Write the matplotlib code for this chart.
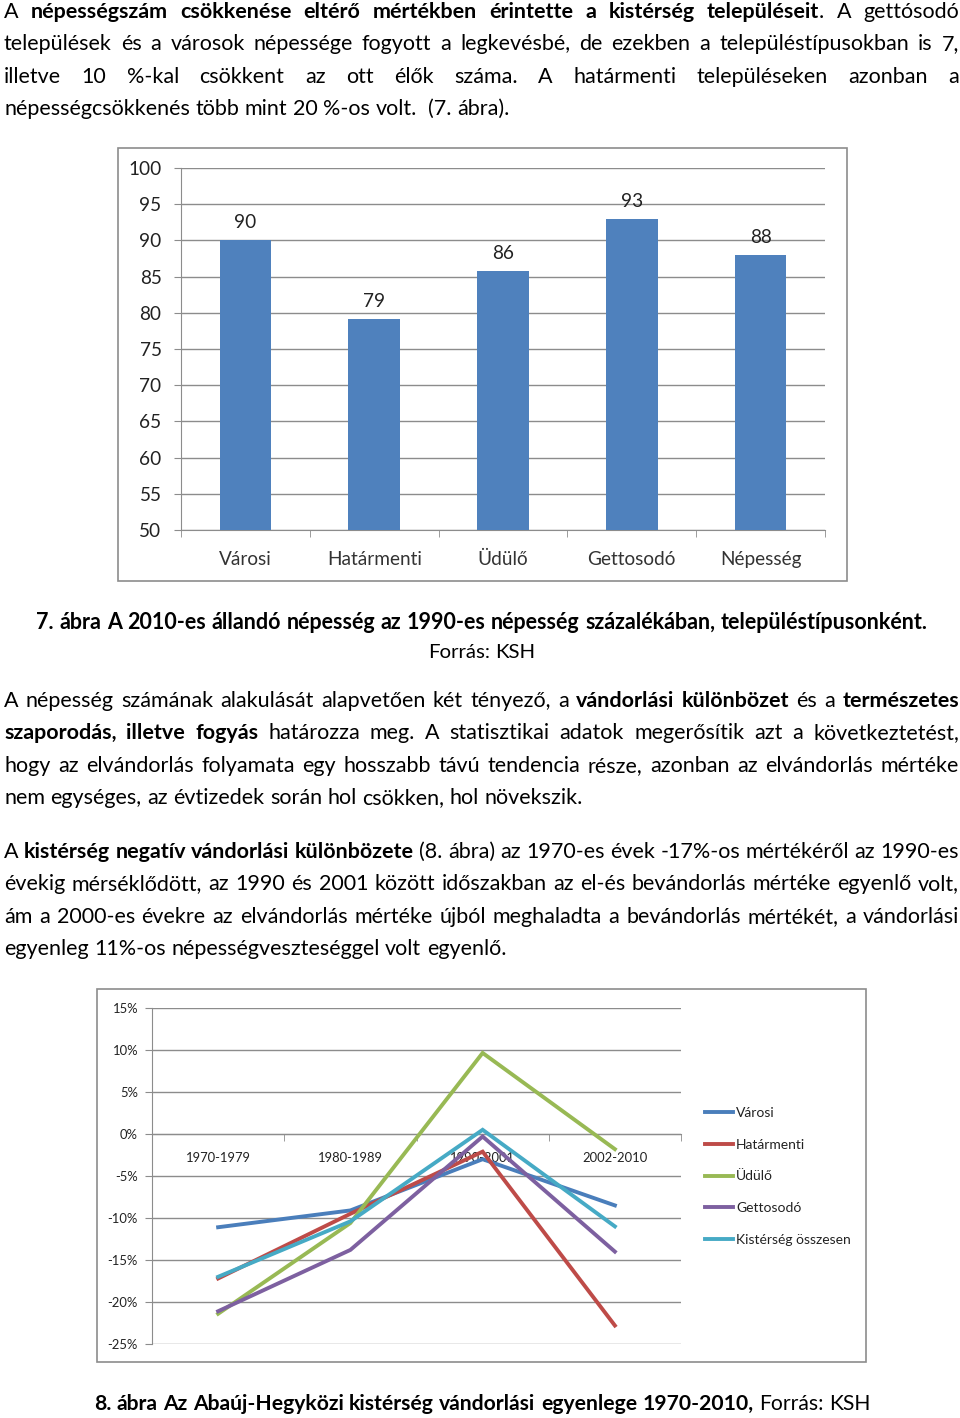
import matplotlib
matplotlib.use('Agg')
import matplotlib.pyplot as plt
from matplotlib.patches import Rectangle
import numpy as np

# ---------------- data ----------------
bar_categories = ['Városi', 'Határmenti', 'Üdülő', 'Gettosodó', 'Népesség']
bar_values = [90.1, 79.1, 85.8, 93.0, 88.0]
bar_labels = ['90', '79', '86', '93', '88']
bar_yticks = list(range(50, 101, 5))

periods = ['1970-1979', '1980-1989', '1990-2001', '2002-2010']
series_names = ['Városi', 'Határmenti', 'Üdülő', 'Gettosodó', 'Kistérség összesen']
varosi = [-11.1, -9.1, -3.0, -8.5]
hatarmenti = [-17.2, -9.5, -2.1, -22.8]
udulo = [-21.4, -10.6, 9.65, -1.8]
gettosodo = [-21.1, -13.8, -0.3, -14.0]
kisterseg = [-17.0, -10.4, 0.5, -11.0]
line_series = [varosi, hatarmenti, udulo, gettosodo, kisterseg]
line_colors = ['#4A7EBB', '#BE4B48', '#98B954', '#7D60A0', '#46AAC5']
line_yticks = list(range(-25, 16, 5))

para1 = [
    "A **népességszám csökkenése eltérő mértékben érintette a kistérség településeit**. A gettósodó",
    "települések és a városok népessége fogyott a legkevésbé, de ezekben a településtípusokban is 7,",
    "illetve 10 %-kal csökkent az ott élők száma. A határmenti településeken azonban a",
    "népességcsökkenés több mint 20 %-os volt.  (7. ábra).",
]
caption7 = "**7. ábra A 2010-es állandó népesség az 1990-es népesség százalékában, településtípusonként.**"
source7 = "Forrás: KSH"
para2 = [
    "A népesség számának alakulását alapvetően két tényező, a **vándorlási különbözet** és a **természetes**",
    "**szaporodás, illetve fogyás** határozza meg. A statisztikai adatok megerősítik azt a következtetést,",
    "hogy az elvándorlás folyamata egy hosszabb távú tendencia része, azonban az elvándorlás mértéke",
    "nem egységes, az évtizedek során hol csökken, hol növekszik.",
]
para3 = [
    "A **kistérség negatív vándorlási különbözete** (8. ábra) az 1970-es évek -17%-os mértékéről az 1990-es",
    "évekig mérséklődött, az 1990 és 2001 között időszakban az el-és bevándorlás mértéke egyenlő volt,",
    "ám a 2000-es évekre az elvándorlás mértéke újból meghaladta a bevándorlás mértékét, a vándorlási",
    "egyenleg 11%-os népességveszteséggel volt egyenlő.",
]
caption8 = "**8. ábra Az Abaúj-Hegyközi kistérség vándorlási egyenlege 1970-2010,** Forrás: KSH"

# ---------------- figure ----------------
W, H = 960, 1418
fig = plt.figure(figsize=(W / 100, H / 100), dpi=100)
fig.patch.set_facecolor('white')
renderer = fig.canvas.get_renderer()
FONT = 'Lato'


def fx(x):
    return x / W


def fy(y):
    return 1 - y / H


def tw(s, bold, size):
    t = fig.text(0, 0, s, fontsize=size, family=FONT,
                 fontweight='bold' if bold else 'normal')
    w = t.get_window_extent(renderer).width
    t.remove()
    return w


def size_for(s, target, bold=False, base=12.0):
    return base * target / tw(s, bold, base)


def parse(line):
    words = []
    bold = False
    for tok in line.split(' '):
        if tok == '':
            if words:
                words[-1].append((' ', bold))
            continue
        parts = tok.split('**')
        pieces = []
        for j, p in enumerate(parts):
            if j > 0:
                bold = not bold
            if p:
                pieces.append((p, bold))
        if pieces:
            words.append(pieces)
    return words


def measure(words, size):
    space = tw('a a', False, size) - tw('aa', False, size)
    widths = [[(space if p == ' ' else tw(p, b, size)) for p, b in w] for w in words]
    total = sum(sum(w) for w in widths)
    return space, widths, total


def draw_line(line, yb, size, x0=4, x1=959, mode='justify', center=482, fit=None):
    words = parse(line)
    for _ in range(8):
        space, widths, total = measure(words, size)
        if mode == 'justify':
            gap = (x1 - x0 - total) / max(len(words) - 1, 1)
            if gap < 0.55 * space:
                size *= 0.985
                continue
        elif mode == 'center' and fit is not None:
            full = total + space * (len(words) - 1)
            if abs(full - fit) > 1.5:
                size *= fit / full
                continue
        break
    space, widths, total = measure(words, size)
    if mode == 'justify':
        gap = (x1 - x0 - total) / max(len(words) - 1, 1)
        start = x0
    elif mode == 'left':
        gap = space
        start = x0
    else:
        gap = space
        full = total + gap * (len(words) - 1)
        start = center - full / 2
    x = start
    for w, ws in zip(words, widths):
        xx = x
        for (p, b), pw in zip(w, ws):
            if p != ' ':
                fig.text(fx(xx), fy(yb), p, fontsize=size, family=FONT,
                         fontweight='bold' if b else 'normal', color='black',
                         va='baseline', ha='left')
            xx += pw
        x += sum(ws) + gap


# calibrate body size on an unjustified line (ends at x~580 in the page)
FS = size_for(para2[-1], 576)


def draw_par(lines, base, step=32.4):
    for i, ln in enumerate(lines):
        mode = 'justify' if i < len(lines) - 1 else 'left'
        draw_line(ln, base + i * step, FS, mode=mode)


draw_par(para1, 18)
draw_line(caption7, 629, FS, mode='center', center=482, fit=898)
draw_line(source7, 658, FS, mode='center', center=482, fit=108)
draw_par(para2, 707)
draw_par(para3, 858)
draw_line(caption8, 1410, FS, mode='center', center=482, fit=774)

# ---------------- bar chart ----------------
BFS = size_for('Határmenti', 94)
fig.add_artist(Rectangle((fx(118), fy(581)), fx(847) - fx(118), fy(148) - fy(581),
                         transform=fig.transFigure, fill=False, edgecolor='#8C8C8C', lw=1.2))
ax1 = fig.add_axes([fx(181), fy(530), fx(825) - fx(181), fy(168) - fy(530)])
x = np.arange(len(bar_categories))
bars = ax1.bar(x, bar_values, width=0.4, color='#4F81BD', zorder=3)
ax1.bar_label(bars, labels=bar_labels, padding=6.5, fontsize=BFS, family=FONT, color='#222222')
ax1.set_ylim(50, 100)
ax1.set_xlim(-0.5, len(bar_categories) - 0.5)
ax1.set_yticks(bar_yticks)
ax1.set_yticklabels([str(v) for v in bar_yticks], fontsize=BFS, family=FONT, color='#222222')
ax1.set_xticks(x)
ax1.set_xticklabels(bar_categories, fontsize=BFS, family=FONT, color='#333333')
ax1.set_xticks(np.arange(-0.5, len(bar_categories)), minor=True)
ax1.tick_params(axis='x', which='major', length=0, pad=15)
ax1.tick_params(axis='x', which='minor', length=5, color='#8C8C8C', direction='out')
ax1.tick_params(axis='y', length=5, color='#8C8C8C', direction='out', pad=9)
ax1.grid(axis='y', color='#8C8C8C', lw=1, zorder=0)
for s in ['top', 'right']:
    ax1.spines[s].set_visible(False)
for s in ['left', 'bottom']:
    ax1.spines[s].set_color('#8C8C8C')
ax1.set_facecolor('none')

# ---------------- line chart ----------------
LFS = size_for('1970-1979', 65)
fig.add_artist(Rectangle((fx(97), fy(1362)), fx(866) - fx(97), fy(989) - fy(1362),
                         transform=fig.transFigure, fill=False, edgecolor='#8C8C8C', lw=1.2))
ax2 = fig.add_axes([fx(152), fy(1344), fx(681) - fx(152), fy(1008) - fy(1344)])
xp = np.arange(len(periods))
handles = []
for name, vals, col in zip(series_names, line_series, line_colors):
    h, = ax2.plot(xp, vals, color=col, lw=2.8, label=name, zorder=3, solid_joinstyle='miter')
    handles.append(h)
ax2.set_ylim(-25, 15)
ax2.set_xlim(-0.5, len(periods) - 0.5)
ax2.set_yticks(line_yticks)
ax2.set_yticklabels([f'{v}%' for v in line_yticks], fontsize=LFS, family=FONT, color='#222222')
ax2.spines['bottom'].set_position(('data', 0))
ax2.set_xticks(xp)
ax2.set_xticklabels(periods, fontsize=LFS, family=FONT, color='#222222')
ax2.set_xticks(np.arange(-0.5, len(periods)), minor=True)
ax2.tick_params(axis='x', which='major', length=0, pad=13)
ax2.tick_params(axis='x', which='minor', length=5, color='#8C8C8C', direction='out')
ax2.tick_params(axis='y', length=5, color='#8C8C8C', direction='out', pad=5)
ax2.grid(axis='y', color='#8C8C8C', lw=1, zorder=0)
for s in ['top', 'right']:
    ax2.spines[s].set_visible(False)
for s in ['left', 'bottom']:
    ax2.spines[s].set_color('#8C8C8C')
ax2.set_facecolor('none')

GFS = size_for('Kistérség összesen', 114)
fig.legend(handles=handles, loc='upper left', bbox_to_anchor=(fx(705), fy(1107)),
           frameon=False, prop={'family': FONT, 'size': GFS}, labelcolor='#222222',
           handlelength=28 / (GFS * 100 / 72), handletextpad=3 / (GFS * 100 / 72),
           labelspacing=1.42, borderaxespad=0, borderpad=0)

fig.savefig('out.png', dpi=100, facecolor='white')
